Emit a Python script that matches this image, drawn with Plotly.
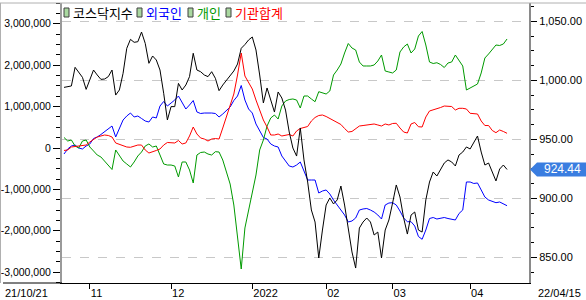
import pandas as pd
import plotly.graph_objects as go

# ---------------- data ----------------
holidays = ["2021-12-31", "2022-01-31", "2022-02-01", "2022-02-02", "2022-03-01", "2022-03-09"]
dates = [d.strftime("%Y-%m-%d") for d in pd.bdate_range("2021-10-21", "2022-04-15")
         if d.strftime("%Y-%m-%d") not in holidays]

kosdaq = [994.0, 994.9, 995.2, 1011.0, 1006.5, 1002.5, 992.3, 1000.3, 1008.7, 1004.5,
          1000.8, 1001.1, 1003.1, 1008.7, 987.5, 991.8, 1005.9, 1027.1, 1034.7, 1032.2,
          1032.7, 1040.9, 1031.3, 1014.4, 1020.6, 1017.2, 1008.7, 989.0, 966.4, 977.7,
          977.7, 997.4, 991.8, 996.0, 1003.1, 1022.9, 1008.7, 1007.3, 1004.5, 1003.1,
          1007.3, 1001.7, 991.2, 996.0, 1000.3, 1003.6, 1007.9, 1013.8, 1027.1, 1030.3,
          1034.2, 1036.7, 1025.7, 1004.5, 980.8, 993.5, 983.3, 973.1, 990.1, 985.0,
          974.8, 956.2, 942.6, 935.8, 959.6, 932.5, 913.8, 890.1, 879.9, 849.4,
          873.1, 894.3, 900.3, 895.2, 898.6, 910.4, 894.3, 873.1, 854.5, 840.9,
          874.8, 879.9, 883.3, 879.9, 868.9, 871.4, 849.4, 873.1, 881.6, 896.0,
          911.3, 901.1, 883.3, 869.7, 885.8, 888.4, 873.1, 871.4, 898.6, 913.8,
          922.3, 918.9, 924.0, 929.9, 932.5, 930.8, 927.4, 936.7, 939.2, 943.5,
          941.8, 946.9, 952.8, 939.2, 928.2, 929.9, 922.3, 914.7, 924.8, 928.2,
          924.44]

foreign = [-145000, -24000, 48000, 72000, 0, -24000, 48000, 97000, 229000, 266000,
           326000, 399000, 471000, 531000, 266000, 459000, 676000, 773000, 845000, 749000,
           773000, 713000, 652000, 628000, 749000, 725000, 1014000, 1123000, 1014000, 1087000,
           1159000, 1256000, 1087000, 942000, 1039000, 1147000, 870000, 833000, 845000, 853000,
           845000, 833000, 749000, 821000, 894000, 990000, 1147000, 1256000, 1510000, 1159000,
           942000, 845000, 580000, 411000, 254000, 217000, 97000, 48000, 24000, -193000,
           -314000, -435000, -459000, -411000, -338000, -556000, -773000, -773000, -773000, -1087000,
           -1039000, -1014000, -1111000, -1256000, -1377000, -1473000, -1618000, -1787000, -1763000, -1691000,
           -1498000, -1473000, -1461000, -1498000, -1546000, -1618000, -1715000, -1377000, -1329000, -1321000,
           -1377000, -1522000, -1691000, -1780000, -1780000, -1884000, -2138000, -2205000, -1981000, -1703000,
           -1679000, -1715000, -1691000, -1679000, -1703000, -1727000, -1739000, -1582000, -1498000, -821000,
           -821000, -857000, -845000, -1014000, -1184000, -1256000, -1280000, -1321000, -1304000, -1341000,
           -1394000]

individual = [254000, 169000, 193000, 48000, 0, 169000, 193000, 24000, -72000, -169000,
              -217000, -314000, -435000, -519000, -48000, -169000, -314000, -386000, -459000, -338000,
              -193000, -97000, 48000, 97000, 24000, 48000, -193000, -386000, -411000, -411000,
              -435000, -700000, -338000, -338000, -531000, -845000, -169000, -109000, -97000, -145000,
              -169000, -89000, -97000, -290000, -580000, -870000, -1377000, -2101000, -2923000, -1932000,
              -1498000, -1135000, -652000, -48000, 193000, 531000, 725000, 797000, 700000, 1014000,
              1135000, 1171000, 1184000, 1159000, 966000, 1256000, 1256000, 1184000, 1118000, 1360000,
              1329000, 1304000, 1377000, 1763000, 1884000, 2029000, 2295000, 2524000, 2415000, 2367000,
              2077000, 1981000, 1981000, 1981000, 2005000, 2101000, 2246000, 1860000, 1836000, 1812000,
              1884000, 2319000, 2440000, 2512000, 2295000, 2391000, 2705000, 2814000, 2488000, 2077000,
              2041000, 2060000, 2017000, 1944000, 2053000, 2077000, 2246000, 2126000, 1981000, 1401000,
              1449000, 1498000, 1546000, 1812000, 2174000, 2271000, 2367000, 2488000, 2476000, 2512000,
              2633000]

institution = [-60000, -48000, 24000, 36000, 36000, 48000, 72000, 145000, 217000, 266000,
               290000, 314000, 302000, 266000, 121000, 85000, 48000, 24000, 17000, 36000,
               72000, 72000, -48000, -121000, -97000, -60000, -24000, 72000, 133000, 133000,
               121000, 181000, 97000, 121000, 290000, 507000, 338000, 242000, 217000, 169000,
               217000, 229000, 217000, 483000, 749000, 1014000, 1304000, 1763000, 2295000, 1739000,
               1570000, 1425000, 1159000, 918000, 676000, 507000, 314000, 314000, 338000, 290000,
               314000, 326000, 290000, 411000, 471000, 500000, 519000, 652000, 737000, 785000,
               797000, 761000, 717000, 664000, 616000, 568000, 471000, 386000, 399000, 459000,
               531000, 543000, 556000, 568000, 580000, 556000, 531000, 580000, 556000, 592000,
               597000, 483000, 386000, 362000, 580000, 616000, 514000, 507000, 749000, 894000,
               918000, 942000, 978000, 1014000, 1014000, 1002000, 918000, 959000, 959000, 942000,
               838000, 833000, 821000, 652000, 543000, 543000, 423000, 370000, 435000, 399000,
               355000]

series_names = ["코스닥지수", "외국인", "개인", "기관합계"]
series_colors = ["#000000", "#0000ff", "#009a00", "#ff0000"]

x_tick_vals = ["2021-11-01", "2021-12-01", "2022-01-03", "2022-02-03", "2022-03-02", "2022-04-01"]
x_tick_text = ["11", "12", "2022", "02", "03", "04"]
first_label = "21/10/21"
last_label = "22/04/15"

left_tick_vals = [-3000000, -2000000, -1000000, 0, 1000000, 2000000, 3000000]
left_tick_text = ["-3,000,000", "-2,000,000", "-1,000,000", "0", "1,000,000", "2,000,000", "3,000,000"]
right_tick_vals = [850, 900, 950, 1000, 1050]
right_tick_text = ["850.00", "900.00", "950.00", "1,000.00", "1,050.00"]

# ---------------- layout helpers ----------------
W, H = 586, 300
L, R, T, B = 62, 57, 3, 17
PW, PH = W - L - R, H - T - B


def px(x):
    return (x - L) / PW


def py(y):
    return (H - B - y) / PH


FONT = "Liberation Sans, Arial, sans-serif"
KR = "Noto Sans CJK KR, sans-serif"

fig = go.Figure()
fig.add_trace(go.Scatter(x=dates, y=foreign, name=series_names[1], mode="lines",
                         line=dict(color=series_colors[1], width=1), yaxis="y"))
fig.add_trace(go.Scatter(x=dates, y=individual, name=series_names[2], mode="lines",
                         line=dict(color=series_colors[2], width=1), yaxis="y"))
fig.add_trace(go.Scatter(x=dates, y=institution, name=series_names[3], mode="lines",
                         line=dict(color=series_colors[3], width=1), yaxis="y"))
fig.add_trace(go.Scatter(x=dates, y=kosdaq, name=series_names[0], mode="lines",
                         line=dict(color=series_colors[0], width=1), yaxis="y2"))

x_lo = -2 / 3.692
x_hi = x_lo + PW / 3.692

fig.update_layout(
    width=W, height=H,
    margin=dict(l=L, r=R, t=T, b=B, pad=0, autoexpand=False),
    paper_bgcolor="white", plot_bgcolor="white",
    showlegend=False,
    hovermode=False,
    xaxis=dict(type="category", range=[x_lo, x_hi], showgrid=False, zeroline=False,
               automargin=False,
               showline=True, linecolor="black", linewidth=1,
               ticks="outside", ticklen=5, tickcolor="black", tickwidth=1,
               tickvals=x_tick_vals, ticktext=x_tick_text,
               ticklabelposition="outside right", ticklabelstandoff=0,
               tickfont=dict(family=FONT, size=11, color="black")),
    yaxis=dict(range=[(148 - 283) / 41.4 * 1e6, (148 - 3) / 41.4 * 1e6],
               showgrid=False, zeroline=False, automargin=False,
               showline=True, linecolor="#9a9a9a", linewidth=2,
               ticks="outside", ticklen=7, tickcolor="black", tickwidth=1,
               tickvals=left_tick_vals, ticktext=left_tick_text,
               tickfont=dict(family=FONT, size=10.5, color="black"),
               minor=dict(ticks="outside", ticklen=4, tickcolor="black", tick0=0, dtick=250000,
                          showgrid=False)),
    yaxis2=dict(overlaying="y", side="right", automargin=False,
                range=[950 - (283 - 139.3) / 1.18, 950 + (139.3 - 3) / 1.18],
                showgrid=True, gridcolor="#c8c8c8", griddash="dash", gridwidth=1,
                zeroline=False,
                showline=True, linecolor="#8a8a8a", linewidth=2,
                ticks="outside", ticklen=6, tickcolor="black", tickwidth=1,
                tickvals=right_tick_vals, ticktext=right_tick_text,
                tickfont=dict(family=FONT, size=11, color="black"),
                minor=dict(ticks="outside", ticklen=3, tickcolor="black", tick0=0, dtick=12.5,
                           showgrid=False)),
)

shapes = []
# frame lines
shapes.append(dict(type="line", xref="paper", yref="paper", x0=px(0), x1=px(W), y0=py(3), y1=py(3),
                   line=dict(color="#b0b0b0", width=1)))
shapes.append(dict(type="line", xref="paper", yref="paper", x0=px(0.5), x1=px(0.5), y0=py(3), y1=py(283),
                   line=dict(color="#b0b0b0", width=1)))
shapes.append(dict(type="line", xref="paper", yref="paper", x0=px(3), x1=px(62), y0=py(283), y1=py(283),
                   line=dict(color="black", width=1)))

annotations = []
# legend
legend_box_x = [64, 137, 188, 226]
for i, name in enumerate(series_names):
    bx = legend_box_x[i]
    shapes.append(dict(type="rect", xref="paper", yref="paper",
                       x0=px(bx), x1=px(bx + 5), y0=py(17), y1=py(8),
                       fillcolor="#a9d8a0", line=dict(color="#404040", width=1)))
    annotations.append(dict(xref="paper", yref="paper", x=px(bx + 6.5), y=py(12.8),
                            xanchor="left", yanchor="middle", showarrow=False,
                            text=name, font=dict(family=KR, size=13, color=series_colors[i])))

# date end labels
annotations.append(dict(xref="paper", yref="paper", x=px(3), y=py(292.5), xanchor="left",
                        yanchor="middle", showarrow=False, text=first_label,
                        font=dict(family=FONT, size=11, color="black")))
annotations.append(dict(xref="paper", yref="paper", x=px(536), y=py(292.5), xanchor="left",
                        yanchor="middle", showarrow=False, text=last_label,
                        font=dict(family=FONT, size=11, color="black")))

# last value badge
last = kosdaq[-1]
half = 7 / 1.18
shapes.append(dict(type="path", xref="paper", yref="y2", layer="above",
                   path=f"M {px(530)},{last} L {px(537)},{last + half} L {px(586)},{last + half} "
                        f"L {px(586)},{last - half} L {px(537)},{last - half} Z",
                   fillcolor="#3a7de0", line=dict(width=0)))
annotations.append(dict(xref="paper", yref="y2", x=px(562), y=last, xanchor="center",
                        yanchor="middle", showarrow=False, text=f"{last:.2f}",
                        font=dict(family=FONT, size=12, color="white")))

fig.update_layout(shapes=shapes, annotations=annotations)
fig.write_html("out.html", config={"displayModeBar": False})
